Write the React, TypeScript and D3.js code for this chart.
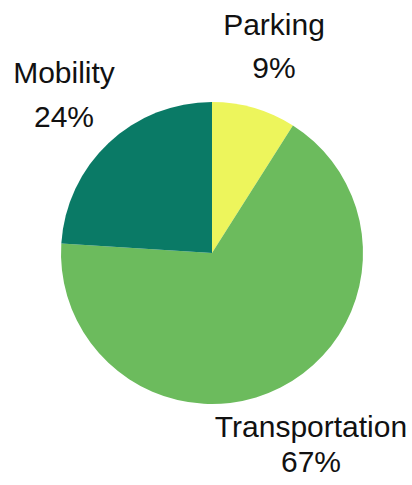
import * as React from 'react'
import * as d3 from 'd3'

const categories = ['Parking', 'Transportation', 'Mobility']
const values = [9, 67, 24]
const colors = ['#edf55c', '#6cbb5d', '#0a7a66']

const labelPos: Record<string, { x: number; y: number; gap: number }> = {
  Parking: { x: 274, y: 35, gap: 43 },
  Transportation: { x: 311, y: 437, gap: 35 },
  Mobility: { x: 64, y: 83, gap: 44 },
}

const W = 412
const H = 485

export default function App() {
  const cx = 212
  const cy = 253
  const r = 151

  const pie = d3
    .pie<number>()
    .sort(null)
    .value((d) => d)
  const arcs = pie(values)
  const arc = d3.arc<d3.PieArcDatum<number>>().innerRadius(0).outerRadius(r)

  return (
    <svg
      width={W}
      height={H}
      viewBox={`0 0 ${W} ${H}`}
      style={{ position: 'absolute', left: 0, top: 0, background: '#fff' }}
    >
      <g transform={`translate(${cx},${cy})`}>
        {arcs.map((a, i) => (
          <path key={categories[i]} d={arc(a) ?? ''} fill={colors[i]} />
        ))}
      </g>
      {categories.map((c, i) => {
        const p = labelPos[c]
        return (
          <text
            key={c}
            x={p.x}
            y={p.y}
            textAnchor="middle"
            fontFamily="'Liberation Sans', Arial, sans-serif"
            fontSize={30}
            fill="#111"
          >
            <tspan x={p.x}>{c}</tspan>
            <tspan x={p.x} dy={p.gap}>{`${values[i]}%`}</tspan>
          </text>
        )
      })}
    </svg>
  )
}
